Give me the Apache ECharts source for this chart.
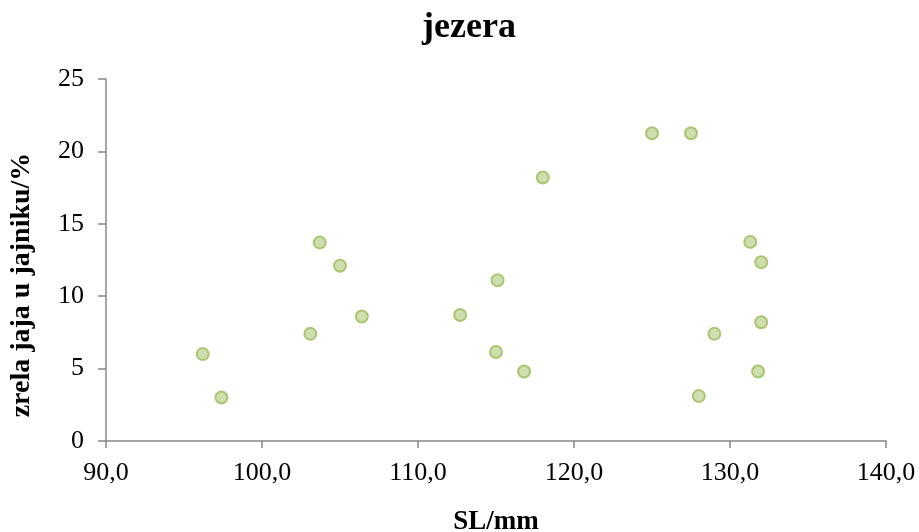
<!DOCTYPE html>
<html>
<head>
<meta charset="utf-8">
<style>html,body{margin:0;padding:0;background:#fff}#c{width:919px;height:532px}</style>
<script src="https://cdn.jsdelivr.net/npm/echarts@6/dist/echarts.min.js"></script>
</head>
<body>
<div id="c"></div>
<script>
var sl = [96.2, 97.4, 103.1, 103.7, 105.0, 106.4, 112.7, 115.0, 115.1, 116.8, 118.0, 125.0, 127.5, 128.0, 129.0, 131.3, 131.8, 132.0, 132.0];
var zrela = [6.0, 3.0, 7.4, 13.7, 12.1, 8.6, 8.7, 6.15, 11.1, 4.8, 18.2, 21.25, 21.25, 3.1, 7.4, 13.75, 4.8, 12.35, 8.2];
var xTicks = [90, 100, 110, 120, 130, 140];
var yTicks = [0, 5, 10, 15, 20, 25];

var points = sl.map(function (v, i) { return [v, zrela[i]]; });
var serif = '"Times New Roman", "Liberation Serif", serif';
var axisColor = '#868686';

var chart = echarts.init(document.getElementById('c'));
chart.setOption({
  animation: false,
  title: {
    text: 'jezera',
    left: 464,
    top: 5,
    textAlign: 'center',
    textStyle: { fontFamily: serif, fontWeight: 'bold', fontSize: 36, color: '#000' }
  },
  grid: { left: 106, right: 33, top: 79, bottom: 91, containLabel: false, outerBoundsMode: 'none' },
  xAxis: {
    type: 'value',
    min: xTicks[0], max: xTicks[xTicks.length - 1], interval: 10,
    name: 'SL/mm',
    nameLocation: 'middle',
    nameGap: 68,
    nameTextStyle: { fontFamily: serif, fontWeight: 'bold', fontSize: 27, color: '#000' },
    axisLine: { show: true, lineStyle: { color: axisColor, width: 1.5 } },
    axisTick: { show: true, inside: false, length: 7, lineStyle: { color: axisColor, width: 1.5 } },
    axisLabel: {
      fontFamily: serif, fontSize: 26, color: '#000', margin: 19,
      formatter: function (v) { return v.toFixed(1).replace('.', ','); }
    },
    splitLine: { show: false }
  },
  yAxis: {
    type: 'value',
    min: yTicks[0], max: yTicks[yTicks.length - 1], interval: 5,
    axisLine: { show: true, lineStyle: { color: axisColor, width: 1.5 } },
    axisTick: { show: true, inside: false, length: 8, lineStyle: { color: axisColor, width: 1.5 } },
    axisLabel: { fontFamily: serif, fontSize: 26, color: '#000', margin: 22 },
    splitLine: { show: false }
  },
  graphic: [{
    type: 'text',
    x: 22, y: 285,
    rotation: Math.PI / 2,
    style: {
      text: 'zrela jaja u jajniku/%',
      fontFamily: serif, fontWeight: 'bold', fontSize: 28, fill: '#000',
      align: 'center', verticalAlign: 'middle'
    }
  }],
  series: [{
    type: 'scatter',
    data: points,
    symbol: 'circle',
    symbolSize: 12,
    itemStyle: { color: '#c3d69b', borderColor: '#9bbb59', borderWidth: 2 }
  }]
});
</script>
</body>
</html>
